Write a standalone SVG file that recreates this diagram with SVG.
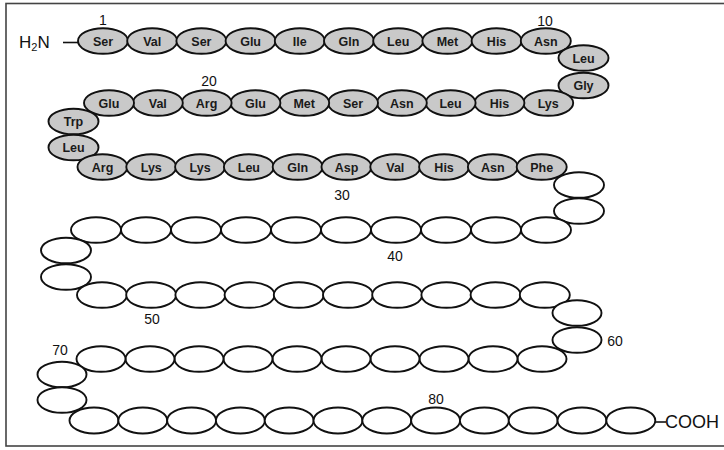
<svg xmlns="http://www.w3.org/2000/svg" width="724" height="450" viewBox="0 0 724 450">
<style>
.bg{fill:#ffffff}
.frame{fill:none;stroke:#444444;stroke-width:1.6}
.aa ellipse{fill:#c9c9c9;stroke:#111111;stroke-width:1.9}
.res ellipse{fill:#ffffff;stroke:#111111;stroke-width:1.9}
.aa text{font-family:"Liberation Sans",Arial,sans-serif;font-size:12.5px;font-weight:bold;fill:#1a1a1a;text-anchor:middle}
.num{font-family:"Liberation Sans",Arial,sans-serif;font-size:14px;fill:#111111;text-anchor:middle}
.term{font-family:"Liberation Sans",Arial,sans-serif;fill:#111111}
.conn line{stroke:#111111;stroke-width:1.6}
</style>
<rect class="bg" x="0" y="0" width="724" height="450"/>
<rect class="frame" x="6" y="3.5" width="730" height="442.5"/>
<g id="connectors" class="conn">
<line x1="63" y1="42.5" x2="78" y2="42.5"/>
<line x1="655" y1="422" x2="666" y2="422"/>
</g>
<g id="termini">
<text class="term" x="19" y="48" font-size="17">H<tspan font-size="11" dy="3">2</tspan><tspan dy="-3">N</tspan></text>
<text class="term" x="665" y="428" font-size="18">COOH</text>
</g>
<g id="labels">
<text class="num" x="103" y="25">1</text>
<text class="num" x="545" y="26">10</text>
<text class="num" x="209" y="86">20</text>
<text class="num" x="342" y="200">30</text>
<text class="num" x="395" y="261">40</text>
<text class="num" x="152" y="324">50</text>
<text class="num" x="615" y="346">60</text>
<text class="num" x="60" y="355">70</text>
<text class="num" x="436" y="404">80</text>
</g>
<g id="r1" class="aa"><ellipse cx="103" cy="41" rx="25" ry="12.8"/><text x="103" y="45.5">Ser</text></g>
<g id="r2" class="aa"><ellipse cx="152.2" cy="41" rx="25" ry="12.8"/><text x="152.2" y="45.5">Val</text></g>
<g id="r3" class="aa"><ellipse cx="201.4" cy="41" rx="25" ry="12.8"/><text x="201.4" y="45.5">Ser</text></g>
<g id="r4" class="aa"><ellipse cx="250.6" cy="41" rx="25" ry="12.8"/><text x="250.6" y="45.5">Glu</text></g>
<g id="r5" class="aa"><ellipse cx="299.8" cy="41" rx="25" ry="12.8"/><text x="299.8" y="45.5">Ile</text></g>
<g id="r6" class="aa"><ellipse cx="349" cy="41" rx="25" ry="12.8"/><text x="349" y="45.5">Gln</text></g>
<g id="r7" class="aa"><ellipse cx="398.2" cy="41" rx="25" ry="12.8"/><text x="398.2" y="45.5">Leu</text></g>
<g id="r8" class="aa"><ellipse cx="447.4" cy="41" rx="25" ry="12.8"/><text x="447.4" y="45.5">Met</text></g>
<g id="r9" class="aa"><ellipse cx="496.6" cy="41" rx="25" ry="12.8"/><text x="496.6" y="45.5">His</text></g>
<g id="r10" class="aa"><ellipse cx="545.8" cy="41" rx="25" ry="12.8"/><text x="545.8" y="45.5">Asn</text></g>
<g id="r11" class="aa"><ellipse cx="583.5" cy="58" rx="25" ry="12.8"/><text x="583.5" y="62.5">Leu</text></g>
<g id="r12" class="aa"><ellipse cx="583.5" cy="85.5" rx="25" ry="12.8"/><text x="583.5" y="90">Gly</text></g>
<g id="r13" class="aa"><ellipse cx="548.2" cy="103" rx="25" ry="12.8"/><text x="548.2" y="107.5">Lys</text></g>
<g id="r14" class="aa"><ellipse cx="499.4" cy="103" rx="25" ry="12.8"/><text x="499.4" y="107.5">His</text></g>
<g id="r15" class="aa"><ellipse cx="450.6" cy="103" rx="25" ry="12.8"/><text x="450.6" y="107.5">Leu</text></g>
<g id="r16" class="aa"><ellipse cx="401.8" cy="103" rx="25" ry="12.8"/><text x="401.8" y="107.5">Asn</text></g>
<g id="r17" class="aa"><ellipse cx="353" cy="103" rx="25" ry="12.8"/><text x="353" y="107.5">Ser</text></g>
<g id="r18" class="aa"><ellipse cx="304.2" cy="103" rx="25" ry="12.8"/><text x="304.2" y="107.5">Met</text></g>
<g id="r19" class="aa"><ellipse cx="255.4" cy="103" rx="25" ry="12.8"/><text x="255.4" y="107.5">Glu</text></g>
<g id="r20" class="aa"><ellipse cx="206.6" cy="103" rx="25" ry="12.8"/><text x="206.6" y="107.5">Arg</text></g>
<g id="r21" class="aa"><ellipse cx="157.8" cy="103" rx="25" ry="12.8"/><text x="157.8" y="107.5">Val</text></g>
<g id="r22" class="aa"><ellipse cx="109" cy="103" rx="25" ry="12.8"/><text x="109" y="107.5">Glu</text></g>
<g id="r23" class="aa"><ellipse cx="73.5" cy="121.5" rx="25" ry="12.8"/><text x="73.5" y="126">Trp</text></g>
<g id="r24" class="aa"><ellipse cx="73.5" cy="147.5" rx="25" ry="12.8"/><text x="73.5" y="152">Leu</text></g>
<g id="r25" class="aa"><ellipse cx="102.5" cy="167" rx="25" ry="12.8"/><text x="102.5" y="171.5">Arg</text></g>
<g id="r26" class="aa"><ellipse cx="151.3" cy="167" rx="25" ry="12.8"/><text x="151.3" y="171.5">Lys</text></g>
<g id="r27" class="aa"><ellipse cx="200.1" cy="167" rx="25" ry="12.8"/><text x="200.1" y="171.5">Lys</text></g>
<g id="r28" class="aa"><ellipse cx="248.9" cy="167" rx="25" ry="12.8"/><text x="248.9" y="171.5">Leu</text></g>
<g id="r29" class="aa"><ellipse cx="297.7" cy="167" rx="25" ry="12.8"/><text x="297.7" y="171.5">Gln</text></g>
<g id="r30" class="aa"><ellipse cx="346.5" cy="167" rx="25" ry="12.8"/><text x="346.5" y="171.5">Asp</text></g>
<g id="r31" class="aa"><ellipse cx="395.3" cy="167" rx="25" ry="12.8"/><text x="395.3" y="171.5">Val</text></g>
<g id="r32" class="aa"><ellipse cx="444.1" cy="167" rx="25" ry="12.8"/><text x="444.1" y="171.5">His</text></g>
<g id="r33" class="aa"><ellipse cx="492.9" cy="167" rx="25" ry="12.8"/><text x="492.9" y="171.5">Asn</text></g>
<g id="r34" class="aa"><ellipse cx="541.7" cy="167" rx="25" ry="12.8"/><text x="541.7" y="171.5">Phe</text></g>
<g id="r35" class="res"><ellipse cx="579" cy="185" rx="25" ry="12.8"/></g>
<g id="r36" class="res"><ellipse cx="579" cy="211" rx="25" ry="12.8"/></g>
<g id="r37" class="res"><ellipse cx="546" cy="230" rx="25" ry="12.8"/></g>
<g id="r38" class="res"><ellipse cx="496" cy="230" rx="25" ry="12.8"/></g>
<g id="r39" class="res"><ellipse cx="446" cy="230" rx="25" ry="12.8"/></g>
<g id="r40" class="res"><ellipse cx="396" cy="230" rx="25" ry="12.8"/></g>
<g id="r41" class="res"><ellipse cx="346" cy="230" rx="25" ry="12.8"/></g>
<g id="r42" class="res"><ellipse cx="296" cy="230" rx="25" ry="12.8"/></g>
<g id="r43" class="res"><ellipse cx="246" cy="230" rx="25" ry="12.8"/></g>
<g id="r44" class="res"><ellipse cx="196" cy="230" rx="25" ry="12.8"/></g>
<g id="r45" class="res"><ellipse cx="146" cy="230" rx="25" ry="12.8"/></g>
<g id="r46" class="res"><ellipse cx="96" cy="230" rx="25" ry="12.8"/></g>
<g id="r47" class="res"><ellipse cx="66" cy="250.5" rx="25" ry="12.8"/></g>
<g id="r48" class="res"><ellipse cx="66" cy="277" rx="25" ry="12.8"/></g>
<g id="r49" class="res"><ellipse cx="102" cy="295" rx="25" ry="12.8"/></g>
<g id="r50" class="res"><ellipse cx="151.2" cy="295" rx="25" ry="12.8"/></g>
<g id="r51" class="res"><ellipse cx="200.4" cy="295" rx="25" ry="12.8"/></g>
<g id="r52" class="res"><ellipse cx="249.6" cy="295" rx="25" ry="12.8"/></g>
<g id="r53" class="res"><ellipse cx="298.8" cy="295" rx="25" ry="12.8"/></g>
<g id="r54" class="res"><ellipse cx="348" cy="295" rx="25" ry="12.8"/></g>
<g id="r55" class="res"><ellipse cx="397.2" cy="295" rx="25" ry="12.8"/></g>
<g id="r56" class="res"><ellipse cx="446.4" cy="295" rx="25" ry="12.8"/></g>
<g id="r57" class="res"><ellipse cx="495.6" cy="295" rx="25" ry="12.8"/></g>
<g id="r58" class="res"><ellipse cx="544.8" cy="295" rx="25" ry="12.8"/></g>
<g id="r59" class="res"><ellipse cx="577" cy="313" rx="24.5" ry="12.8"/></g>
<g id="r60" class="res"><ellipse cx="577" cy="340" rx="24.5" ry="12.8"/></g>
<g id="r61" class="res"><ellipse cx="542" cy="359" rx="24.5" ry="12.8"/></g>
<g id="r62" class="res"><ellipse cx="493" cy="359" rx="24.5" ry="12.8"/></g>
<g id="r63" class="res"><ellipse cx="444" cy="359" rx="24.5" ry="12.8"/></g>
<g id="r64" class="res"><ellipse cx="395" cy="359" rx="24.5" ry="12.8"/></g>
<g id="r65" class="res"><ellipse cx="346" cy="359" rx="24.5" ry="12.8"/></g>
<g id="r66" class="res"><ellipse cx="297" cy="359" rx="24.5" ry="12.8"/></g>
<g id="r67" class="res"><ellipse cx="248" cy="359" rx="24.5" ry="12.8"/></g>
<g id="r68" class="res"><ellipse cx="199" cy="359" rx="24.5" ry="12.8"/></g>
<g id="r69" class="res"><ellipse cx="150" cy="359" rx="24.5" ry="12.8"/></g>
<g id="r70" class="res"><ellipse cx="101" cy="359" rx="24.5" ry="12.8"/></g>
<g id="r71" class="res"><ellipse cx="62" cy="374.5" rx="24.5" ry="12.8"/></g>
<g id="r72" class="res"><ellipse cx="62" cy="400" rx="24.5" ry="12.8"/></g>
<g id="r73" class="res"><ellipse cx="94" cy="420.5" rx="24.5" ry="13"/></g>
<g id="r74" class="res"><ellipse cx="142.8" cy="420.5" rx="24.5" ry="13"/></g>
<g id="r75" class="res"><ellipse cx="191.6" cy="420.5" rx="24.5" ry="13"/></g>
<g id="r76" class="res"><ellipse cx="240.4" cy="420.5" rx="24.5" ry="13"/></g>
<g id="r77" class="res"><ellipse cx="289.2" cy="420.5" rx="24.5" ry="13"/></g>
<g id="r78" class="res"><ellipse cx="338" cy="420.5" rx="24.5" ry="13"/></g>
<g id="r79" class="res"><ellipse cx="386.8" cy="420.5" rx="24.5" ry="13"/></g>
<g id="r80" class="res"><ellipse cx="435.6" cy="420.5" rx="24.5" ry="13"/></g>
<g id="r81" class="res"><ellipse cx="484.4" cy="420.5" rx="24.5" ry="13"/></g>
<g id="r82" class="res"><ellipse cx="533.2" cy="420.5" rx="24.5" ry="13"/></g>
<g id="r83" class="res"><ellipse cx="582" cy="420.5" rx="24.5" ry="13"/></g>
<g id="r84" class="res"><ellipse cx="630.8" cy="420.5" rx="24.5" ry="13"/></g>
</svg>
